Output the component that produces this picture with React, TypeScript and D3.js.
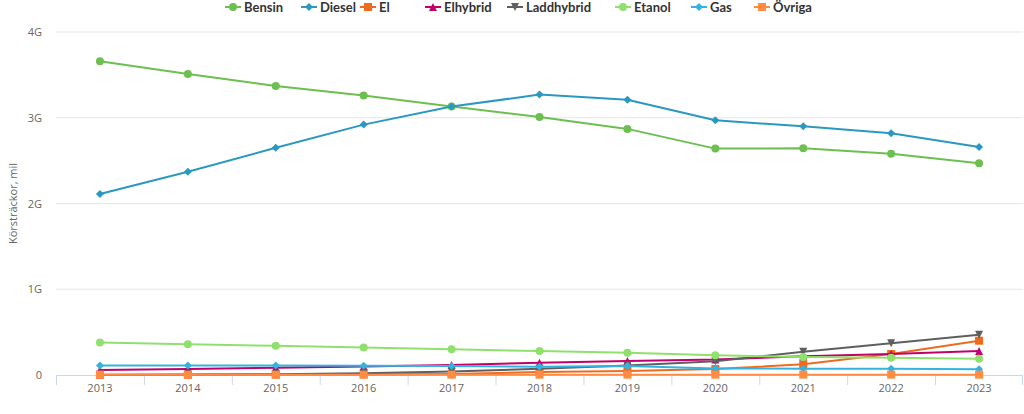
import * as d3 from "d3";
import { useEffect } from "react";

// årlig körsträcka per drivmedel, mil
const years = ["2013", "2014", "2015", "2016", "2017", "2018", "2019", "2020", "2021", "2022", "2023"];
const bensin = [3.66, 3.51, 3.37, 3.26, 3.13, 3.01, 2.87, 2.64, 2.645, 2.58, 2.47];
const diesel = [2.11, 2.37, 2.65, 2.92, 3.13, 3.27, 3.21, 2.97, 2.90, 2.82, 2.66];
const el = [0.001, 0.002, 0.004, 0.007, 0.012, 0.035, 0.047, 0.07, 0.125, 0.245, 0.40];
const elhybrid = [0.058, 0.07, 0.085, 0.10, 0.117, 0.144, 0.163, 0.18, 0.22, 0.245, 0.28];
const laddhybrid = [0.002, 0.005, 0.01, 0.02, 0.04, 0.073, 0.11, 0.16, 0.27, 0.37, 0.47];
const etanol = [0.38, 0.36, 0.34, 0.32, 0.30, 0.28, 0.26, 0.23, 0.21, 0.20, 0.19];
const gas = [0.11, 0.11, 0.11, 0.108, 0.105, 0.097, 0.105, 0.075, 0.074, 0.073, 0.066];
const ovriga = [0.004, 0.004, 0.004, 0.004, 0.004, 0.004, 0.004, 0.004, 0.004, 0.004, 0.004];
const yTicks = [0, 1, 2, 3, 4];
const yTickLabels = ["0", "1G", "2G", "3G", "4G"];

type Marker = "circle" | "diamond" | "square" | "triangle" | "triangle-down";

const series: { name: string; values: number[]; color: string; marker: Marker }[] = [
    { name: "Bensin", values: bensin, color: "#6cbf50", marker: "circle" },
    { name: "Diesel", values: diesel, color: "#2a98c0", marker: "diamond" },
    { name: "El", values: el, color: "#f06a1e", marker: "square" },
    { name: "Elhybrid", values: elhybrid, color: "#c2006b", marker: "triangle" },
    { name: "Laddhybrid", values: laddhybrid, color: "#5f5f5f", marker: "triangle-down" },
    { name: "Etanol", values: etanol, color: "#90e06e", marker: "circle" },
    { name: "Gas", values: gas, color: "#34b3e2", marker: "diamond" },
    { name: "Övriga", values: ovriga, color: "#ff8c42", marker: "square" },
];

const legendX = [233, 309, 368, 433, 515, 623, 699, 762];

const markerPath = (m: Marker, x: number, y: number) => {
    const r = 4;
    switch (m) {
        case "circle":
            return `M${x - r},${y}a${r},${r} 0 1,0 ${2 * r},0a${r},${r} 0 1,0 ${-2 * r},0Z`;
        case "diamond":
            return `M${x},${y - r}L${x + r},${y}L${x},${y + r}L${x - r},${y}Z`;
        case "square":
            return `M${x - r},${y - r}h${2 * r}v${2 * r}h${-2 * r}Z`;
        case "triangle":
            return `M${x},${y - r}L${x + r},${y + r}L${x - r},${y + r}Z`;
        case "triangle-down":
            return `M${x - r},${y - r}L${x + r},${y - r}L${x},${y + r}Z`;
    }
};

const width = 1024;
const height = 414;
const marginLeft = 56;
const marginRight = 1;
const marginTop = 32;
const marginBottom = 39;

const App = () => {
    useEffect(() => {
        document.body.style.margin = "0";
    }, []);

    const x = d3.scaleBand().domain(years).range([marginLeft, width - marginRight]);
    const y = d3.scaleLinear().domain([0, 4]).range([height - marginBottom, marginTop]);
    const cx = (yr: string) => (x(yr) ?? 0) + x.bandwidth() / 2;

    const line = d3.line<number>()
        .x((_, i) => cx(years[i]))
        .y((d) => y(d));

    const font = "'Open Sans', 'Lucida Grande', Arial, sans-serif";

    return (
        <svg width={width} height={height} style={{ display: "block", fontFamily: font }}>
            {yTicks.slice(1).map((t) => (
                <line key={t} x1={marginLeft} x2={width - marginRight} y1={y(t)} y2={y(t)} stroke="#e6e6e6" />
            ))}
            {yTicks.map((t, i) => (
                <text key={t} x={42} y={y(t) + 4} textAnchor="end" fontSize={11} fill="#666">{yTickLabels[i]}</text>
            ))}
            <text transform={`translate(17,${y(2)}) rotate(-90)`} textAnchor="middle" fontSize={11} fill="#666">Körsträckor, mil</text>

            <line x1={marginLeft} x2={width - marginRight} y1={y(0) + 0.5} y2={y(0) + 0.5} stroke="#ccd6eb" />
            {years.map((yr) => (
                <line key={yr} x1={(x(yr) ?? 0) + 0.5} x2={(x(yr) ?? 0) + 0.5} y1={y(0)} y2={y(0) + 10} stroke="#ccd6eb" />
            ))}
            <line x1={width - marginRight - 0.5} x2={width - marginRight - 0.5} y1={y(0)} y2={y(0) + 10} stroke="#ccd6eb" />
            {years.map((yr) => (
                <text key={yr} x={cx(yr)} y={y(0) + 17} textAnchor="middle" fontSize={11} fill="#666">{yr}</text>
            ))}

            {series.map((s) => (
                <g key={s.name}>
                    <path d={line(s.values) ?? ""} fill="none" stroke={s.color} strokeWidth={2} strokeLinejoin="round" />
                    {s.values.map((v, i) => (
                        <path key={i} d={markerPath(s.marker, cx(years[i]), y(v))} fill={s.color} />
                    ))}
                </g>
            ))}

            {series.map((s, i) => (
                <g key={s.name}>
                    <line x1={legendX[i] - 8} x2={legendX[i] + 8} y1={7} y2={7} stroke={s.color} strokeWidth={2} />
                    <path d={markerPath(s.marker, legendX[i], 7)} fill={s.color} />
                    <text x={legendX[i] + 11} y={12} fontSize={13} fontWeight="bold" fill="#333" fontFamily="Lato, sans-serif">{s.name}</text>
                </g>
            ))}
        </svg>
    );
};

export default App;
